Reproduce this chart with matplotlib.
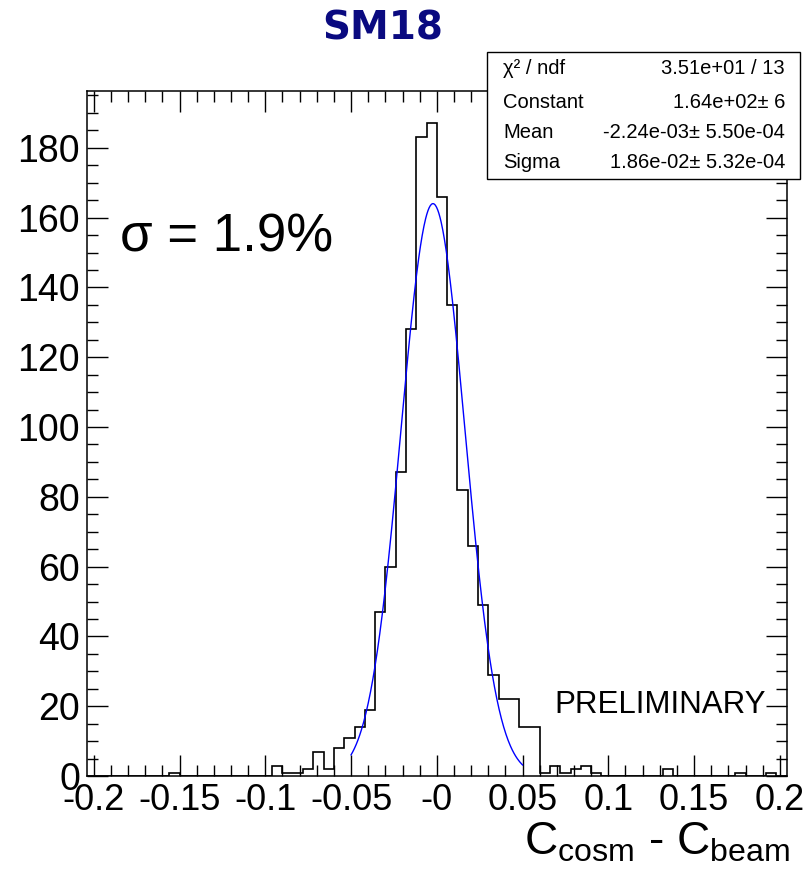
import numpy as np
import matplotlib
matplotlib.use("Agg")
import matplotlib.pyplot as plt
from matplotlib.ticker import MultipleLocator, FixedLocator, FixedFormatter

plt.rcParams['font.family'] = ['Liberation Sans', 'DejaVu Sans']
plt.rcParams['mathtext.fontset'] = 'custom'
plt.rcParams['mathtext.rm'] = 'Liberation Sans'

# --- histogram (68 bins from -0.204 to 0.204)
x_min, x_max, n_bins = -0.204, 0.204, 68
counts = [0, 0, 0, 0, 0, 0, 0, 0, 1, 0,
          0, 0, 0, 0, 0, 0, 0, 0, 3, 1,
          1, 2, 7, 2, 8, 11, 14, 19, 47, 60,
          87, 128, 183, 187, 166, 135, 82, 66, 49, 29,
          22, 22, 14, 14, 1, 3, 1, 2, 3, 1,
          0, 0, 0, 0, 0, 0, 2, 0, 0, 0,
          0, 0, 0, 1, 0, 0, 1, 0]

# --- gaussian fit
fit_const, fit_mean, fit_sigma = 164.0, -2.24e-3, 1.86e-2
fit_range = (-0.05, 0.05)

stats_names = ["χ² / ndf", "Constant", "Mean", "Sigma"]
stats_values = ["3.51e+01 / 13", "1.64e+02± 6",
                "-2.24e-03± 5.50e-04", "1.86e-02± 5.32e-04"]

xtick_vals = [-0.2, -0.15, -0.1, -0.05, 0.0, 0.05, 0.1, 0.15, 0.2]
xtick_labels = ["-0.2", "-0.15", "-0.1", "-0.05", "-0", "0.05", "0.1", "0.15", "0.2"]

fig = plt.figure(figsize=(8.09, 8.75), dpi=100)
ax = fig.add_axes([0.1075, 0.1131, 0.8649, 0.7832])

edges = np.linspace(x_min, x_max, n_bins + 1)
ax.stairs(counts, edges, color='black', lw=1.2)

xf = np.linspace(fit_range[0], fit_range[1], 300)
yf = fit_const * np.exp(-0.5 * ((xf - fit_mean) / fit_sigma) ** 2)
ax.plot(xf, yf, color='blue', lw=1.0)

ax.set_xlim(x_min, x_max)
ax.set_ylim(0, max(counts) * 1.05)

ax.xaxis.set_major_locator(FixedLocator(xtick_vals))
ax.xaxis.set_major_formatter(FixedFormatter(xtick_labels))
ax.xaxis.set_minor_locator(MultipleLocator(0.01))
ax.yaxis.set_major_locator(MultipleLocator(20))
ax.yaxis.set_minor_locator(MultipleLocator(5))

ax.tick_params(which='both', direction='in', top=True, right=True, width=1.0)
ax.tick_params(which='major', length=15)
ax.tick_params(which='minor', length=7.7)
ax.tick_params(axis='y', labelsize=27, pad=5)
ax.tick_params(axis='x', labelsize=26, pad=5)
for sp in ax.spines.values():
    sp.set_linewidth(1.1)

ax.set_xlabel(r'C$_{\mathregular{cosm}}$ - C$_{\mathregular{beam}}$', fontsize=33)
ax.xaxis.set_label_coords(1.005, -0.065)
ax.xaxis.label.set_horizontalalignment('right')

fig.text(0.473, 0.967, "SM18", color='#0a0a80', fontsize=28, fontweight='bold',
         ha='center', va='center', family='DejaVu Sans')

ax.text(0.047, 0.765, "σ = 1.9%", transform=ax.transAxes,
        fontsize=38, ha='left', va='baseline')
ax.text(0.97, 0.092, "PRELIMINARY", transform=ax.transAxes,
        fontsize=22.5, ha='right', va='baseline')

# stats box
bx0, by0, bx1, by1 = 487 / 809, 1 - 179 / 875, 800 / 809, 1 - 52 / 875
fig.patches.append(plt.Rectangle((bx0, by0), bx1 - bx0, by1 - by0, transform=fig.transFigure,
                                 facecolor='white', edgecolor='black', lw=1.0, zorder=5))
row_y = [69, 102, 132, 162]
for name, val, yy in zip(stats_names, stats_values, row_y):
    fig.text(503 / 809, 1 - yy / 875, name, fontsize=14.5, ha='left', va='center', zorder=6)
    fig.text(785 / 809, 1 - yy / 875, val, fontsize=14.5, ha='right', va='center', zorder=6)

fig.savefig("out.png", dpi=100)
